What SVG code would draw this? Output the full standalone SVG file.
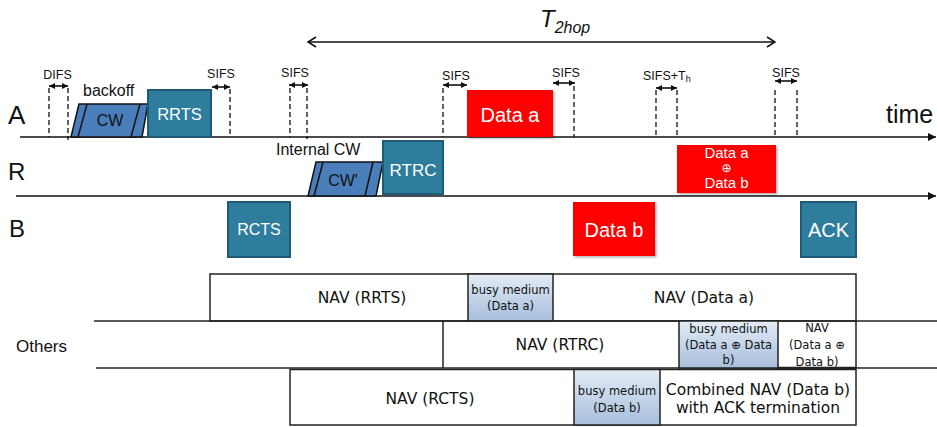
<svg xmlns="http://www.w3.org/2000/svg" width="937" height="427" viewBox="0 0 937 427">
<defs>
<style>
.lbl{font-family:"Liberation Sans","DejaVu Sans",Arial,sans-serif;fill:#111}
.sm{font-size:12.5px}
.wt{font-family:"Liberation Sans","DejaVu Sans",Arial,sans-serif;fill:#fff;text-anchor:middle}
.nav{font-family:"DejaVu Sans",Tahoma,sans-serif;fill:#111;text-anchor:middle;font-size:15.5px}
.nsm{font-family:"DejaVu Sans",Tahoma,sans-serif;fill:#111;text-anchor:middle;font-size:11.5px}
.teal{fill:#2E7D9D;stroke:#1F5B76;stroke-width:2}
.red{fill:#FF0000;filter:url(#sh)}
.cw{fill:#4A7EBB;stroke:#111;stroke-width:1.5}
.dash{stroke:#111;stroke-width:1.3;stroke-dasharray:5,3;fill:none}
.dbl{stroke:#111;stroke-width:1.6;marker-start:url(#ah);marker-end:url(#ah)}
.cell{fill:#fff;stroke:#222;stroke-width:1.5}
.busy{fill:url(#bg);stroke:#222;stroke-width:1.5}
.ln{stroke:#222;stroke-width:1.5;fill:none}
</style>
<linearGradient id="bg" x1="0" y1="0" x2="0" y2="1">
<stop offset="0" stop-color="#e4ecf6"/>
<stop offset="1" stop-color="#a6bedc"/>
</linearGradient>
<filter id="sh" x="-10%" y="-10%" width="130%" height="130%">
<feDropShadow dx="1.5" dy="1.5" stdDeviation="1.2" flood-color="#000" flood-opacity="0.3"/>
</filter>
<marker id="ah" viewBox="0 0 6 6" refX="6" refY="3" markerWidth="6" markerHeight="6" markerUnits="userSpaceOnUse" orient="auto-start-reverse">
<path d="M0,0 L6,3 L0,6 z" fill="#111"/>
</marker>
<marker id="big" viewBox="0 0 8 8" refX="8" refY="4" markerWidth="8" markerHeight="8" markerUnits="userSpaceOnUse" orient="auto">
<path d="M0,0 L8,4 L0,8 z" fill="#111"/>
</marker>
<marker id="open" viewBox="0 0 10 12" refX="9" refY="6" markerWidth="10" markerHeight="12" markerUnits="userSpaceOnUse" orient="auto-start-reverse">
<path d="M1,1 L9,6 L1,11" fill="none" stroke="#111" stroke-width="1.5"/>
</marker>
</defs>
<rect width="937" height="427" fill="#fff"/>

<g id="connectors">
<line x1="20" y1="137" x2="936" y2="137" stroke="#111" stroke-width="1.5" marker-end="url(#big)"/>
<line x1="16" y1="196" x2="936" y2="196" stroke="#111" stroke-width="1.5" marker-end="url(#big)"/>
<line x1="308" y1="42" x2="775" y2="42" stroke="#111" stroke-width="1.5" marker-start="url(#open)" marker-end="url(#open)"/>
<line class="dash" x1="49" y1="88" x2="49" y2="137"/>
<line class="dash" x1="68" y1="88" x2="68" y2="140"/>
<line class="dbl" x1="49" y1="86" x2="68" y2="86"/>
<line class="dash" x1="230" y1="89" x2="230" y2="137"/>
<line class="dbl" x1="212" y1="87" x2="230" y2="87"/>
<line class="dash" x1="290" y1="88" x2="290" y2="137"/>
<line class="dash" x1="307" y1="88" x2="307" y2="139"/>
<line class="dbl" x1="289" y1="85" x2="308" y2="85"/>
<line class="dash" x1="443" y1="88" x2="443" y2="137"/>
<line class="dbl" x1="443" y1="85" x2="467" y2="85"/>
<line class="dash" x1="574" y1="86" x2="574" y2="137"/>
<line class="dbl" x1="553" y1="83" x2="575" y2="83"/>
<line class="dash" x1="656" y1="90" x2="656" y2="137"/>
<line class="dash" x1="677" y1="90" x2="677" y2="137"/>
<line class="dbl" x1="656" y1="88" x2="677" y2="88"/>
<line class="dash" x1="775" y1="90" x2="775" y2="137"/>
<line class="dash" x1="797" y1="90" x2="797" y2="137"/>
<line class="dbl" x1="775" y1="81" x2="797" y2="81"/>
</g>

<g id="labels">
<text class="lbl" x="8" y="124" font-size="26">A</text>
<text class="lbl" x="8" y="180" font-size="24">R</text>
<text class="lbl" x="9" y="237" font-size="24">B</text>
<text class="lbl" x="886" y="123" font-size="25">time</text>
<text class="lbl" x="540" y="27" font-size="24" font-style="italic">T<tspan font-size="16" dy="6">2hop</tspan></text>
<text class="lbl sm" x="57.5" y="79" text-anchor="middle">DIFS</text>
<text class="lbl" x="83" y="96" font-size="16">backoff</text>
<text class="lbl sm" x="221" y="78" text-anchor="middle">SIFS</text>
<text class="lbl sm" x="295" y="77" text-anchor="middle">SIFS</text>
<text class="lbl sm" x="456" y="80" text-anchor="middle">SIFS</text>
<text class="lbl sm" x="566" y="77" text-anchor="middle">SIFS</text>
<text class="lbl sm" x="643" y="80">SIFS+T<tspan font-size="9" dy="2">h</tspan></text>
<text class="lbl sm" x="786" y="77" text-anchor="middle">SIFS</text>
<text class="lbl" x="276" y="155" font-size="16">Internal CW</text>
<text class="lbl" x="16" y="352" font-size="17">Others</text>
</g>

<g id="node-cw">
<polygon class="cw" points="79,104 148,104 142,137 71,137"/>
<line x1="87" y1="104" x2="78" y2="137" stroke="#111" stroke-width="1.5"/>
<line x1="140" y1="104" x2="131" y2="137" stroke="#111" stroke-width="1.5"/>
<text class="lbl" x="110" y="126" font-size="16" text-anchor="middle">CW</text>
</g>
<g id="node-rrts">
<rect class="teal" x="148" y="90" width="63" height="47"/>
<text class="wt" x="179.5" y="120" font-size="16.5">RRTS</text>
</g>
<g id="node-data-a">
<rect class="red" x="467" y="90" width="86" height="47"/>
<text class="wt" x="510" y="122" font-size="20">Data a</text>
</g>
<g id="node-cw2">
<polygon class="cw" points="316,162 383,162 376,196 308,196"/>
<line x1="323" y1="162" x2="314" y2="196" stroke="#111" stroke-width="1.5"/>
<line x1="373" y1="162" x2="365" y2="196" stroke="#111" stroke-width="1.5"/>
<text class="lbl" x="343" y="186" font-size="16" text-anchor="middle">CW'</text>
</g>
<g id="node-rtrc">
<rect class="teal" x="383" y="141" width="60" height="53"/>
<text class="wt" x="413" y="176" font-size="17">RTRC</text>
</g>
<g id="node-data-ab">
<rect class="red" x="677" y="145" width="99" height="48"/>
<text class="wt" x="726.5" y="157.5" font-size="15">Data a</text>
<text class="wt" x="726.5" y="172" font-size="12">⊕</text>
<text class="wt" x="726.5" y="188" font-size="15">Data b</text>
</g>
<g id="node-rcts">
<rect class="teal" x="228" y="202" width="62" height="55"/>
<text class="wt" x="259" y="235" font-size="16">RCTS</text>
</g>
<g id="node-data-b">
<rect class="red" x="573" y="202" width="82" height="54"/>
<text class="wt" x="614" y="237" font-size="20">Data b</text>
</g>
<g id="node-ack">
<rect class="teal" x="801" y="202" width="55" height="55"/>
<text class="wt" x="828.5" y="237" font-size="20">ACK</text>
</g>

<g id="nav-row1">
<rect class="cell" x="210" y="274" width="646" height="47"/>
<rect class="busy" x="468" y="274" width="85" height="47"/>
<text class="nav" x="362" y="303">NAV (RRTS)</text>
<text class="nsm" x="510.5" y="294">busy medium</text>
<text class="nsm" x="510.5" y="310">(Data a)</text>
<text class="nav" x="704" y="303">NAV (Data a)</text>
</g>
<g id="nav-row2">
<line class="ln" x1="94" y1="321" x2="937" y2="321"/>
<line class="ln" x1="96" y1="368" x2="937" y2="368"/>
<rect class="busy" x="679" y="321" width="99" height="47"/>
<line class="ln" x1="443" y1="321" x2="443" y2="368"/>
<line class="ln" x1="856" y1="321" x2="856" y2="368"/>
<line x1="778" y1="368" x2="856" y2="368" stroke="#222" stroke-width="2.5"/>
<text class="nav" x="560" y="350">NAV (RTRC)</text>
<text class="nsm" x="728.5" y="333">busy medium</text>
<text class="nsm" x="728.5" y="349">(Data a ⊕ Data</text>
<text class="nsm" x="728.5" y="364">b)</text>
<text class="nsm" x="817" y="332" font-size="12.5">NAV</text>
<text class="nsm" x="817" y="349" font-size="12.5">(Data a ⊕</text>
<text class="nsm" x="817" y="366" font-size="12.5">Data b)</text>
</g>
<g id="nav-row3">
<rect class="cell" x="290" y="369.5" width="566" height="55.5"/>
<rect class="busy" x="574" y="369.5" width="86" height="55.5"/>
<text class="nav" x="430" y="404">NAV (RCTS)</text>
<text class="nsm" x="617" y="395">busy medium</text>
<text class="nsm" x="617" y="412">(Data b)</text>
<text class="nav" x="758" y="395">Combined NAV (Data b)</text>
<text class="nav" x="758" y="413">with ACK termination</text>
</g>
</svg>
